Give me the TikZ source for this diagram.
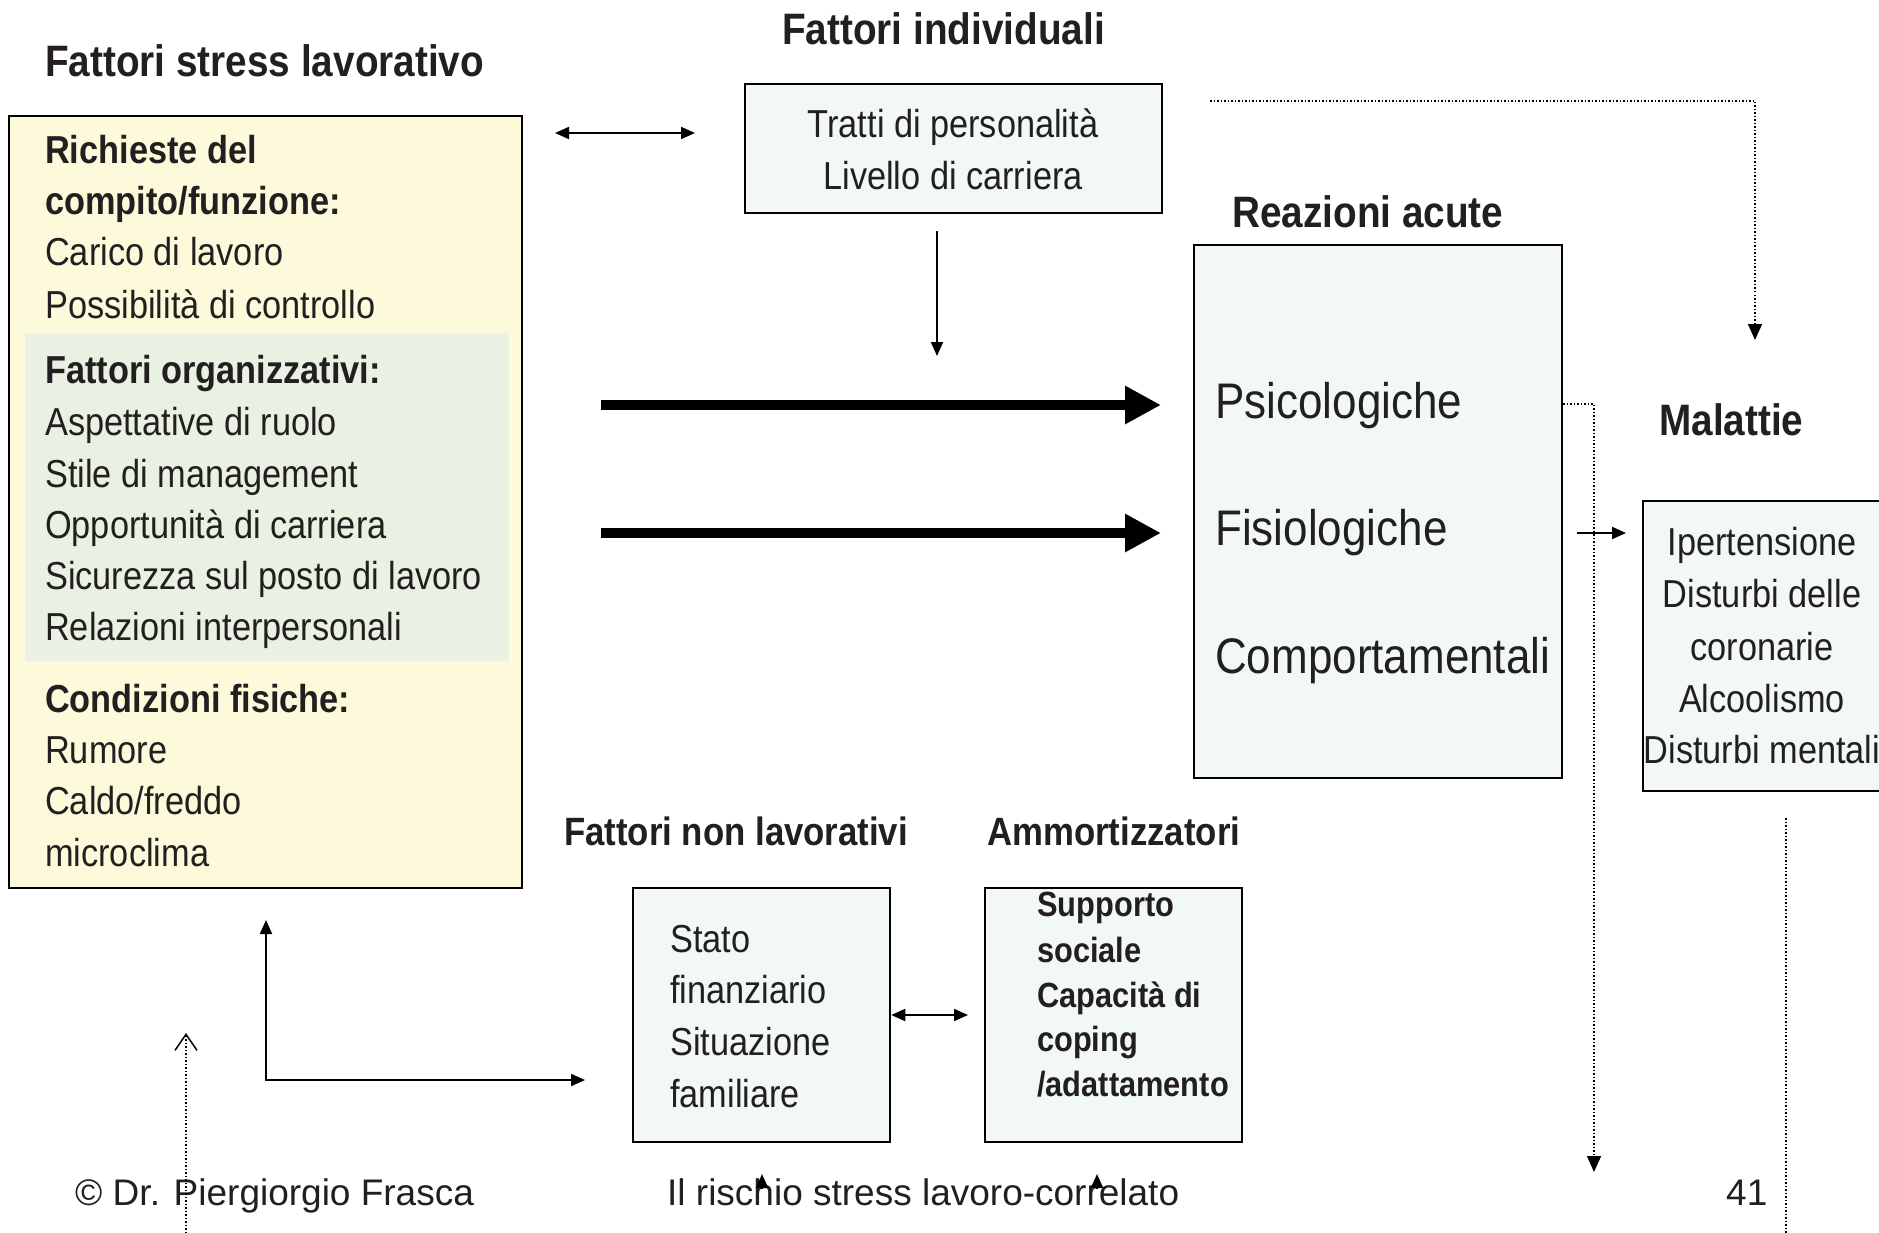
\documentclass[tikz,border=0pt]{standalone}
\usepackage{fontspec}
\setmainfont{Liberation Sans}[FakeStretch=0.88]
\newfontfamily\piedefont{Liberation Sans}
\usepackage{tikz}
\usetikzlibrary{arrows.meta, positioning}
\definecolor{giallino}{RGB}{252,250,218}
\definecolor{verdino}{RGB}{232,241,226}
\definecolor{azzurrino}{RGB}{242,248,248}
\definecolor{testo}{RGB}{35,31,32}
\tikzset{
	titolo/.style={anchor=base west, inner sep=0pt, text=testo, font=\fontsize{44}{52}\selectfont\bfseries},
	voce/.style={anchor=base west, inner sep=0pt, text=testo, font=\fontsize{39}{51}\selectfont},
	casella/.style={rectangle, draw=black, line width=2.5pt, fill=azzurrino, inner sep=0pt},
	freccia/.style={line width=2pt, -{Triangle[length=14pt,width=12pt]}},
	doppia/.style={line width=2pt, {Triangle[length=14pt,width=12pt]}-{Triangle[length=14pt,width=12pt]}},
	puntini/.style={line width=1.5pt, dotted},
	grossa/.style={line width=10pt, -{Triangle[length=36pt,width=36pt]}}
}

\begin{document}
\begin{tikzpicture}[x=1pt, y=-1pt]
		% Pagina
		\fill[white] (0,0) rectangle (1879,1233);
		\clip (0,0) rectangle (1879,1233);
		
		% Titoli
		\node[titolo] (t-stress) at (45,77) {Fattori stress lavorativo};
		\node[titolo] (t-indiv) at (782,45) {Fattori individuali};
		\node[titolo] (t-reaz) at (1232,228) {Reazioni acute};
		\node[titolo] (t-mal) at (1659,435) {Malattie};
		\node[titolo, font=\fontsize{39.5}{48}\selectfont\bfseries] (t-nonlav) at (564,845) {Fattori non lavorativi};
		\node[titolo, font=\fontsize{39.5}{48}\selectfont\bfseries] (t-ammo) at (987,845) {Ammortizzatori};
		
		% Caselle
		\node[casella, fill=giallino, minimum width=513pt, minimum height=772pt] (fattori) at (265.5,502) {};
		\fill[verdino] (25,333) rectangle (509,661);
		\node[casella, minimum width=417pt, minimum height=129pt] (tratti) at (953.5,148.5) {};
		\node[casella, minimum width=368pt, minimum height=533pt] (reazioni) at (1378,511.5) {};
		\node[casella, minimum width=241pt, minimum height=290pt] (malattie) at (1763.5,646) {};
		\node[casella, minimum width=257pt, minimum height=254pt] (stato) at (761.5,1015) {};
		\node[casella, minimum width=257pt, minimum height=254pt] (supporto) at (1113.5,1015) {};
		
		% Testo dei fattori di stress
		\foreach \y/\riga [count=\i] in {164/{\bfseries Richieste del}, 215/{\bfseries compito/funzione:},
			266/Carico di lavoro, 318/Possibilità di controllo, 383/{\bfseries Fattori organizzativi:},
			435/Aspettative di ruolo, 487/Stile di management, 538/Opportunità di carriera,
			589/Sicurezza sul posto di lavoro, 640/Relazioni interpersonali, 712/{\bfseries Condizioni fisiche:},
			763/Rumore, 814/{Caldo/freddo}, 866/microclima}
		\node[voce] (riga\i) at (45,\y) {\riga};
		
		% Testo delle altre caselle
		\node[voce, anchor=base] (tratti1) at (953,138) {Tratti di personalità};
		\node[voce, anchor=base] (tratti2) at (953,190) {Livello di carriera};
		\node[voce, font=\fontsize{50}{60}\selectfont] (psi) at (1215,418) {Psicologiche};
		\node[voce, font=\fontsize{50}{60}\selectfont] (fisio) at (1215,545) {Fisiologiche};
		\node[voce, font=\fontsize{50}{60}\selectfont] (comp) at (1215,673) {Comportamentali};
		\foreach \y/\riga [count=\i] in {555/Ipertensione, 607/Disturbi delle, 660/coronarie, 712/Alcoolismo, 763/Disturbi mentali}
		\node[voce, anchor=base] (mal\i) at (1762,\y) {\riga};
		\foreach \y/\riga [count=\i] in {952/Stato, 1003/finanziario, 1055/Situazione, 1107/familiare}
		\node[voce] (stato\i) at (670,\y) {\riga};
		\foreach \y/\riga [count=\i] in {916/Supporto, 962/sociale, 1007/Capacità di, 1051/coping, 1096/{/adattamento}}
		\node[voce, font=\fontsize{35}{45}\selectfont\bfseries] (supp\i) at (1037,\y) {\riga};
		
		% Pie di pagina
		\node[voce, font=\piedefont\fontsize{37}{44}\selectfont] (autore) at (75,1205) {© Dr. Piergiorgio Frasca};
		\node[voce, font=\piedefont\fontsize{37}{44}\selectfont] (argomento) at (667,1205) {Il rischio stress lavoro-correlato};
		\node[voce, font=\piedefont\fontsize{37}{44}\selectfont] (pagina) at (1726,1205) {41};
		
		% Punti liberi delle frecce
		\coordinate (d1) at (555,133);
		\coordinate (d2) at (695,133);
		\coordinate (g1) at (937,231);
		\coordinate (g2) at (937,356);
		\coordinate (p1) at (1210,101);
		\coordinate (p2) at (1755,340);
		\coordinate (a1) at (601,405);
		\coordinate (a2) at (1161,405);
		\coordinate (b1) at (601,533);
		\coordinate (b2) at (1161,533);
		\coordinate (q1) at (1594,404);
		\coordinate (q2) at (1594,1172);
		\coordinate (m1) at (1577,533);
		\coordinate (m2) at (1626,533);
		\coordinate (v1) at (1786,818);
		\coordinate (v2) at (1786,1233);
		\coordinate (e1) at (266,920);
		\coordinate (e2) at (266,1080);
		\coordinate (e3) at (585,1080);
		\coordinate (s2) at (968,1015);
		\coordinate (u1) at (186,1233);
		\coordinate (u2) at (186,1033);
		\coordinate (k1) at (762,1188);
		\coordinate (k2) at (762,1174);
		\coordinate (k3) at (1097,1188);
		\coordinate (k4) at (1097,1174);
		
		% Frecce
		\draw[doppia] (d1) -- (d2);
		\draw[freccia] (g1) -- (g2);
		\draw[puntini, -{Triangle[length=16pt,width=14pt]}] (p1) -| (p2);
		\draw[grossa] (a1) -- (a2);
		\draw[grossa] (b1) -- (b2);
		\draw[puntini, -{Triangle[length=16pt,width=14pt]}] (reazioni.east |- q1) -- (q1) -- (q2);
		\draw[freccia] (m1) -- (m2);
		\draw[puntini] (v1) -- (v2);
		\draw[doppia] (e1) |- (e3);
		\draw[doppia] (stato.east) -- (s2);
		\draw[puntini, -{Straight Barb[length=16pt,width=22pt]}] (u1) -- (u2);
		\draw[freccia] (k1) -- (k2);
		\draw[freccia] (k3) -- (k4);
		
	\end{tikzpicture}
\end{document}
